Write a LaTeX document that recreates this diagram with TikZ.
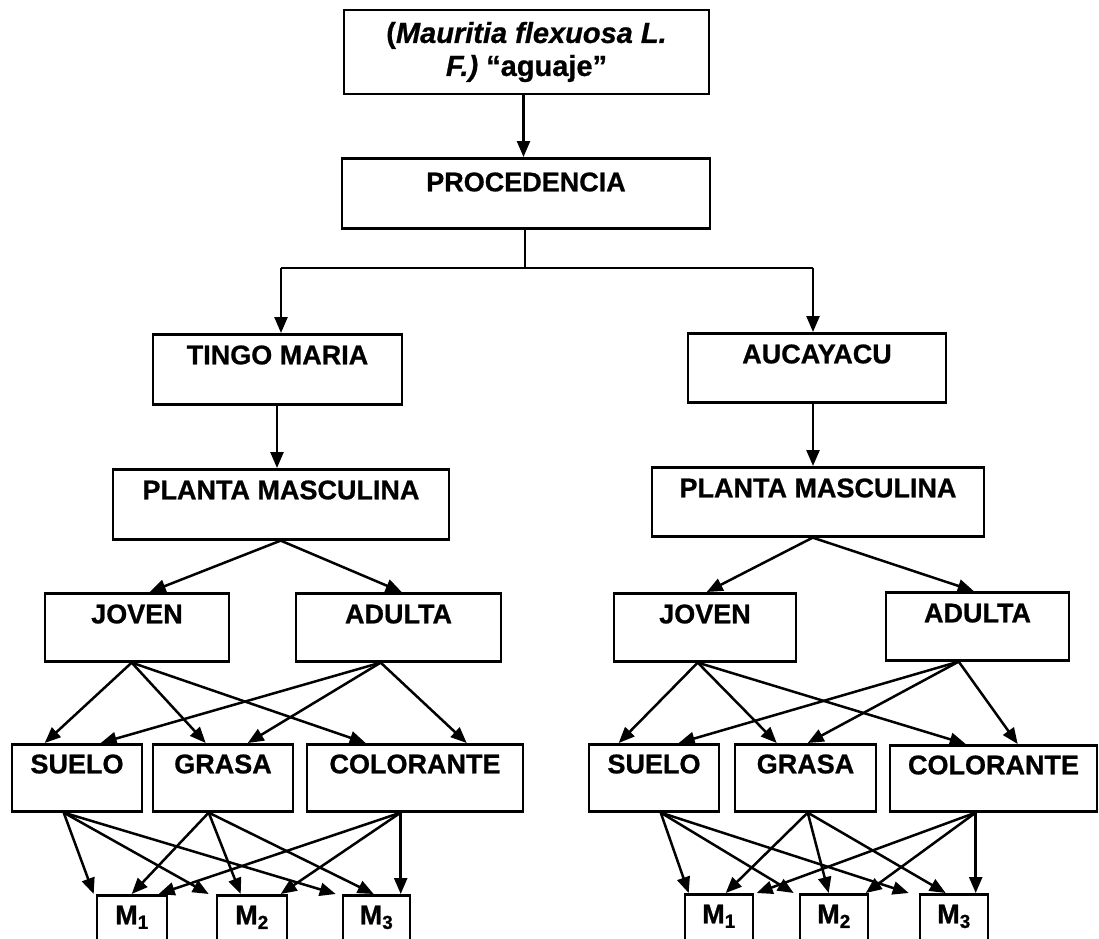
\documentclass[tikz,border=0pt]{standalone}
\usepackage{fontspec}
\setmainfont{Liberation Sans}[BoldFeatures={FakeBold=0.8},BoldItalicFeatures={FakeBold=0.8}]
\usetikzlibrary{arrows.meta}
\tikzset{
  box/.style={draw, line width=2.6pt, inner xsep=0pt, inner ysep=0pt, anchor=north,
    text height=30pt, font=\fontsize{27}{33}\selectfont\bfseries},
  arr/.style={line width=2.5pt, -{Triangle[length=16pt,width=13pt]}},
  plain/.style={line width=2.5pt},
}
\begin{document}
\begin{tikzpicture}[x=1pt,y=-1pt]
\useasboundingbox (0,0) rectangle (1099,938);
\clip (0,0) rectangle (1099,938);
\fill[white] (0,0) rectangle (1099,938);
% top
\node[draw, line width=2.6pt, minimum width=365pt, minimum height=84pt, align=center, inner sep=0pt,
  font=\fontsize{29}{33}\selectfont\bfseries] (top) at (526.5,52)
  {(\textit{Mauritia flexuosa L.}\\\textit{F.)} “aguaje”};
\node[box, text height=33pt, minimum width=368pt, text depth=37pt] (proc) at (526,157) {PROCEDENCIA};
\node[box, minimum width=249pt, text depth=40pt] (tingo) at (277.5,333) {TINGO MARIA};
\node[box, minimum width=258pt, text depth=39pt] (auca) at (817,332) {AUCAYACU};
\node[box, minimum width=336pt, text depth=40pt] (plL) at (281,468) {PLANTA MASCULINA};
\node[box, minimum width=332pt, text depth=39pt] (plR) at (818,466) {PLANTA MASCULINA};
% level joven/adulta
\node[box, minimum width=184pt, text depth=38pt] (jL) at (137,592) {JOVEN};
\node[box, minimum width=205pt, text depth=38pt] (aL) at (398.5,592) {ADULTA};
\node[box, minimum width=182pt, text depth=38pt] (jR) at (705,592) {JOVEN};
\node[box, minimum width=183pt, text depth=38pt] (aR) at (977.5,591) {ADULTA};
% products
\node[box, minimum width=130pt, text depth=38pt, text height=29pt] (sL) at (77,743) {SUELO};
\node[box, minimum width=140pt, text depth=38pt, text height=29pt] (gL) at (223,743) {GRASA};
\node[box, minimum width=216pt, text depth=38pt, text height=29pt] (cL) at (415,743) {COLORANTE};
\node[box, minimum width=130pt, text depth=38pt, text height=29pt] (sR) at (654,743) {SUELO};
\node[box, minimum width=141pt, text depth=38pt, text height=29pt] (gR) at (805.5,743) {GRASA};
\node[box, minimum width=207pt, text depth=37pt, text height=29pt] (cR) at (993.5,744) {COLORANTE};
% M boxes
\node[box, minimum width=70pt, text depth=40pt, text height=29pt] (m1L) at (132,894) {M\textsubscript{1}};
\node[box, minimum width=70pt, text depth=40pt, text height=29pt] (m2L) at (252,894) {M\textsubscript{2}};
\node[box, minimum width=67pt, text depth=40pt, text height=29pt] (m3L) at (376.5,894) {M\textsubscript{3}};
\node[box, minimum width=68pt, text depth=40pt, text height=29pt] (m1R) at (719,893) {M\textsubscript{1}};
\node[box, minimum width=68pt, text depth=40pt, text height=29pt] (m2R) at (834,893) {M\textsubscript{2}};
\node[box, minimum width=68pt, text depth=40pt, text height=29pt] (m3R) at (954,893) {M\textsubscript{3}};
% top connectors
\draw[arr] ([xshift=-3pt]top.south) -- ([xshift=-3pt]top.south |- proc.north);
\coordinate (bl) at (281,268);
\coordinate (brr) at (813,268);
\draw[plain] ([xshift=-1pt]proc.south) -- ([xshift=-1pt]proc.south |- bl);
\draw[plain] (bl) -- (brr);
\draw[arr] (bl) -- (bl |- tingo.north);
\draw[arr] (brr) -- (brr |- auca.north);
\draw[arr] ([xshift=-0.5pt]tingo.south) -- ([xshift=-0.5pt]tingo.south |- plL.north);
\draw[arr] ([xshift=-4pt]auca.south) -- ([xshift=-4pt]auca.south |- plR.north);
% left tree
\draw[arr] ([xshift=169pt]plL.south west) -- ([xshift=106pt]jL.north west);
\draw[arr] ([xshift=169pt]plL.south west) -- ([xshift=107pt]aL.north west);
\draw[arr] ([xshift=88pt]jL.south west) -- ([xshift=34pt]sL.north west);
\draw[arr] ([xshift=88pt]jL.south west) -- ([xshift=54pt]gL.north west);
\draw[arr] ([xshift=88pt]jL.south west) -- ([xshift=60pt]cL.north west);
\draw[arr] ([xshift=86pt]aL.south west) -- ([xshift=90pt]sL.north west);
\draw[arr] ([xshift=86pt]aL.south west) -- ([xshift=96pt]gL.north west);
\draw[arr] ([xshift=86pt]aL.south west) -- ([xshift=161pt]cL.north west);
\draw[arr] ([xshift=53pt]sL.south west) -- ([xshift=-2pt]m1L.north west);
\draw[arr] ([xshift=53pt]sL.south west) -- ([xshift=-7pt]m2L.north west);
\draw[arr] ([xshift=53pt]sL.south west) -- ([xshift=-6pt]m3L.north west);
\draw[arr] ([xshift=57pt]gL.south west) -- ([xshift=36pt]m1L.north west);
\draw[arr] ([xshift=57pt]gL.south west) -- ([xshift=25pt]m2L.north west);
\draw[arr] ([xshift=57pt]gL.south west) -- ([xshift=32pt]m3L.north west);
\draw[arr] ([xshift=95pt]cL.south west) -- ([xshift=63pt]m1L.north west);
\draw[arr] ([xshift=95pt]cL.south west) -- ([xshift=65pt]m2L.north west);
\draw[arr] ([xshift=95pt]cL.south west) -- ([xshift=59pt]m3L.north west);
% right tree
\draw[arr] ([xshift=162pt]plR.south west) -- ([xshift=94pt]jR.north west);
\draw[arr] ([xshift=162pt]plR.south west) -- ([xshift=89pt]aR.north west);
\draw[arr] ([xshift=85pt]jR.south west) -- ([xshift=31pt]sR.north west);
\draw[arr] ([xshift=85pt]jR.south west) -- ([xshift=43pt]gR.north west);
\draw[arr] ([xshift=85pt]jR.south west) -- ([xshift=77pt]cR.north west);
\draw[arr] ([xshift=74pt]aR.south west) -- ([xshift=91pt]sR.north west);
\draw[arr] ([xshift=74pt]aR.south west) -- ([xshift=74pt]gR.north west);
\draw[arr] ([xshift=74pt]aR.south west) -- ([xshift=129pt]cR.north west);
\draw[arr] ([xshift=73pt]sR.south west) -- ([xshift=5pt]m1R.north west);
\draw[arr] ([xshift=73pt]sR.south west) -- ([xshift=-5pt]m2R.north west);
\draw[arr] ([xshift=73pt]sR.south west) -- ([xshift=-10pt]m3R.north west);
\draw[arr] ([xshift=74pt]gR.south west) -- ([xshift=42pt]m1R.north west);
\draw[arr] ([xshift=74pt]gR.south west) -- ([xshift=30pt]m2R.north west);
\draw[arr] ([xshift=74pt]gR.south west) -- ([xshift=27pt]m3R.north west);
\draw[arr] ([xshift=87pt]cR.south west) -- ([xshift=73pt]m1R.north west);
\draw[arr] ([xshift=87pt]cR.south west) -- ([xshift=67pt]m2R.north west);
\draw[arr] ([xshift=87pt]cR.south west) -- ([xshift=57pt]m3R.north west);
\end{tikzpicture}
\end{document}
